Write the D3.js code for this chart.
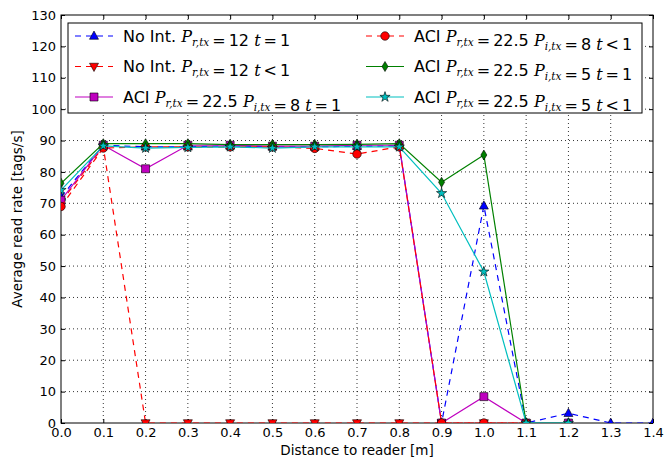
<!DOCTYPE html>
<html>
<head>
<meta charset="utf-8">
<script src="https://cdn.jsdelivr.net/npm/d3@7"></script>
<style>
  body { margin: 0; background: #fff; }
  svg { display: block; font-family: "DejaVu Sans", sans-serif; }
</style>
</head>
<body>
<div id="chart"></div>
<script>
// distances (m)
const distances = [0.0, 0.1, 0.2, 0.3, 0.4, 0.5, 0.6, 0.7, 0.8, 0.9, 1.0, 1.1, 1.2, 1.3, 1.4];

// read rates [tags/s], one array per configuration
const noIntT1   = [72, 88.5, 88, 88, 88.3, 88, 88, 88.2, 88.3, 0, 69.2, 0, 3.1, 0, 0];
const noIntTlt1 = [70.5, 88, 0, 0, 0, 0, 0, 0, 0, 0, 0, 0];
const aci8T1    = [71, 88.5, 81, 88.5, 88.5, 88.2, 88.2, 88.5, 88.5, 0, 8.4, 0, 0];
const aci8Tlt1  = [69, 87.6, 88, 88, 88, 88, 87.5, 85.7, 88, 0, 0, 0];
const aci5T1    = [76.4, 89, 89, 89, 88.7, 88.7, 88.7, 88.8, 89, 76.7, 85.4, 0, 0];
const aci5Tlt1  = [74.2, 88.3, 87.6, 87.8, 88, 87.6, 88, 88, 88, 73.2, 48.2, 0, 0];

const xTicks = [0.0, 0.1, 0.2, 0.3, 0.4, 0.5, 0.6, 0.7, 0.8, 0.9, 1.0, 1.1, 1.2, 1.3, 1.4];
const yTicks = [0, 10, 20, 30, 40, 50, 60, 70, 80, 90, 100, 110, 120, 130];

const series = [
    { name: "No Int.", pr: "12", pi: null, t: "=1", values: noIntT1, color: "#0000ff", dash: "6,5", marker: "tri", fill: "#0000ff" },
    { name: "No Int.", pr: "12", pi: null, t: "<1", values: noIntTlt1, color: "#ff0000", dash: "6,5", marker: "triDown", fill: "#ff0000" },
    { name: "ACI", pr: "22.5", pi: "8", t: "=1", values: aci8T1, color: "#bf00bf", dash: null, marker: "square", fill: "#bf00bf" },
    { name: "ACI", pr: "22.5", pi: "8", t: "<1", values: aci8Tlt1, color: "#ff0000", dash: "6,5", marker: "circle", fill: "#ff0000" },
    { name: "ACI", pr: "22.5", pi: "5", t: "=1", values: aci5T1, color: "#008000", dash: null, marker: "diamond", fill: "#008000" },
    { name: "ACI", pr: "22.5", pi: "5", t: "<1", values: aci5Tlt1, color: "#00bfbf", dash: null, marker: "star", fill: "#00bfbf" }
];

const width = 667, height = 458;
const margin = { top: 15, right: 14, bottom: 35, left: 61 };
const iw = width - margin.left - margin.right;
const ih = height - margin.top - margin.bottom;

const x = d3.scaleLinear().domain([0, 1.4]).range([0, iw]);
const y = d3.scaleLinear().domain([0, 130]).range([ih, 0]);

const svg = d3.select("#chart").append("svg")
    .attr("width", width)
    .attr("height", height);

const g = svg.append("g").attr("transform", `translate(${margin.left},${margin.top})`);

g.append("clipPath").attr("id", "clip")
    .append("rect").attr("width", iw).attr("height", ih);

// grid
g.append("g").selectAll("line").data(xTicks.slice(1, -1)).enter().append("line")
    .attr("x1", d => x(d)).attr("x2", d => x(d)).attr("y1", 0).attr("y2", ih)
    .attr("stroke", "#000").attr("stroke-width", 0.8).attr("stroke-dasharray", "1,3");
g.append("g").selectAll("line").data(yTicks.slice(1, -1)).enter().append("line")
    .attr("y1", d => y(d)).attr("y2", d => y(d)).attr("x1", 0).attr("x2", iw)
    .attr("stroke", "#000").attr("stroke-width", 0.8).attr("stroke-dasharray", "1,3");

// axes, ticks pointing inward like matplotlib
const xb = g.append("g").attr("transform", `translate(0,${ih})`)
    .call(d3.axisBottom(x).tickValues(xTicks).tickFormat(d3.format(".1f")).tickSizeInner(-4).tickSizeOuter(0).tickPadding(5));
const xt = g.append("g")
    .call(d3.axisTop(x).tickValues(xTicks).tickFormat("").tickSizeInner(-4).tickSizeOuter(0));
const yl = g.append("g")
    .call(d3.axisLeft(y).tickValues(yTicks).tickSizeInner(-4).tickSizeOuter(0).tickPadding(5));
const yr = g.append("g").attr("transform", `translate(${iw},0)`)
    .call(d3.axisRight(y).tickValues(yTicks).tickFormat("").tickSizeInner(-4).tickSizeOuter(0));
[xb, xt, yl, yr].forEach(a => {
    a.select(".domain").remove();
    a.selectAll("line").attr("stroke", "#000");
    a.selectAll("text").attr("fill", "#000").style("font-size", "13px").style("font-family", "DejaVu Sans");
});

// frame
g.append("rect").attr("width", iw).attr("height", ih)
    .attr("fill", "none").attr("stroke", "#000").attr("stroke-width", 1);

// marker shapes
const markerPath = (type, s) => {
    switch (type) {
        case "tri": return `M0,${-s}L${s * 0.9},${s * 0.65}L${-s * 0.9},${s * 0.65}Z`;
        case "triDown": return `M0,${s}L${s * 0.9},${-s * 0.65}L${-s * 0.9},${-s * 0.65}Z`;
        case "square": return `M${-s * 0.8},${-s * 0.8}h${s * 1.6}v${s * 1.6}h${-s * 1.6}Z`;
        case "circle": return d3.symbol(d3.symbolCircle, Math.PI * (s * 0.85) ** 2)();
        case "diamond": return `M0,${-s}L${s * 0.6},0L0,${s}L${-s * 0.6},0Z`;
        case "star": return d3.symbol(d3.symbolStar, s * s * 1.3)();
    }
};

const line = d3.line().x((d, i) => x(distances[i])).y(d => y(d));

const plot = g.append("g").attr("clip-path", "url(#clip)");
series.forEach(s => {
    plot.append("path")
        .datum(s.values)
        .attr("d", line)
        .attr("fill", "none")
        .attr("stroke", s.color)
        .attr("stroke-width", 1.2)
        .attr("stroke-dasharray", s.dash);
    plot.selectAll(null)
        .data(s.values)
        .enter().append("path")
        .attr("transform", (d, i) => `translate(${x(distances[i])},${y(d)})`)
        .attr("d", markerPath(s.marker, 5))
        .attr("fill", s.fill)
        .attr("stroke", "#000")
        .attr("stroke-width", 0.6);
});

// axis labels
svg.append("text")
    .attr("x", margin.left + iw / 2).attr("y", 455)
    .attr("text-anchor", "middle")
    .style("font-size", "13.5px")
    .text("Distance to reader [m]");
svg.append("text")
    .attr("transform", `translate(22,${margin.top + ih / 2}) rotate(-90)`)
    .attr("text-anchor", "middle")
    .style("font-size", "13.5px")
    .text("Average read rate [tags/s]");

// legend
const legend = svg.append("g");
legend.append("rect")
    .attr("x", 68).attr("y", 23).attr("width", 574).attr("height", 90)
    .attr("fill", "#fff").attr("stroke", "#000").attr("stroke-width", 1);

const serif = "'DejaVu Serif', serif";
const addLabel = (text, s) => {
    const sans = (t, dx) => text.append("tspan").attr("dx", dx || 0).style("font-family", "DejaVu Sans").text(t);
    const it = (t) => text.append("tspan").style("font-family", serif).style("font-style", "italic").text(t);
    const sub = (t) => {
        text.append("tspan").attr("dy", 4).style("font-family", serif).style("font-style", "italic")
            .style("font-size", "10.5px").text(t);
        text.append("tspan").attr("dy", -4).text("");
    };
    const rel = (t) => text.append("tspan").attr("dx", 3).style("font-family", serif).text(t);
    sans(s.name + " ");
    it("P"); sub("r,tx"); rel("="); sans(s.pr + " ", 3);
    if (s.pi) { it("P"); sub("i,tx"); rel("="); sans(s.pi + " ", 3); }
    it("t"); rel(s.t[0]); sans(s.t.slice(1), 3);
};

series.forEach((s, k) => {
    const col = k < 3 ? 0 : 1;
    const row = k < 3 ? k : k - 3;
    const lx = col === 0 ? 75 : 366;
    const ly = 36 + row * 30.5;
    const item = legend.append("g");
    item.append("line")
        .attr("x1", lx).attr("x2", lx + 38).attr("y1", ly).attr("y2", ly)
        .attr("stroke", s.color).attr("stroke-width", 1.2)
        .attr("stroke-dasharray", s.dash);
    item.append("path")
        .attr("transform", `translate(${lx + 19},${ly})`)
        .attr("d", markerPath(s.marker, 5))
        .attr("fill", s.fill).attr("stroke", "#000").attr("stroke-width", 0.6);
    const text = item.append("text")
        .attr("x", lx + 48).attr("y", ly + 5.5)
        .style("font-size", "16px")
        .attr("fill", "#000");
    addLabel(text, s);
});
</script>
</body>
</html>
